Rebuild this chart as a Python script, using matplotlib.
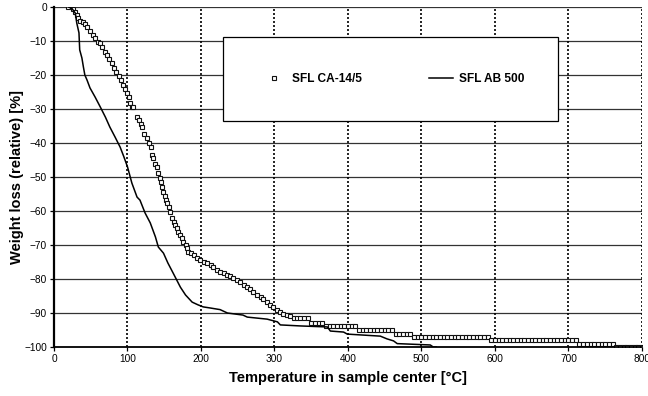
import numpy as np
import matplotlib.pyplot as plt
from matplotlib.patches import Rectangle

plt.rcParams['font.family'] = ['Liberation Sans', 'DejaVu Sans']

# SFL CA-14/5 (hollow squares)
ca_temp = [19, 24, 26, 29, 31, 33, 35, 39, 42, 45, 49, 53, 56, 60, 63, 66, 70, 72, 75, 79,
           82, 85, 88, 91, 94, 97, 99, 102, 104, 106, 108, 113, 116, 118, 120, 123, 126, 129,
           132, 133, 135, 138, 140, 142, 144, 145, 147, 149, 151, 152, 154, 156, 158, 160,
           163, 165, 167, 169, 172, 174, 176, 179, 181, 183, 186, 190, 194, 199, 204, 208,
           213, 217, 222, 226, 231, 236, 240, 244, 249, 253, 258, 263, 267, 271, 276, 281,
           285, 290, 294, 298, 303, 308, 312, 317, 321, 326,
           330, 335, 340, 345, 350, 355, 360, 365,
           370, 375, 380, 385, 390, 395, 400, 405, 410,
           415, 420, 425, 430, 435, 440, 445, 450, 455, 460,
           465, 470, 475, 480, 485,
           490, 495, 500, 505, 510, 515, 520, 525, 530, 535, 540, 545, 550, 555, 560, 565,
           570, 575, 580, 585, 590,
           595, 600, 605, 610, 615, 620, 625, 630, 635, 640, 645, 650, 655, 660, 665, 670,
           675, 680, 685, 690, 695, 700, 705, 710,
           715, 720, 725, 730, 735, 740, 745, 750, 755, 760,
           765, 770, 775, 780, 785, 790, 795, 800]
ca_loss = [0, 0, -0.7, -1.4, -2.4, -3.3, -4.0, -4.3, -5.0, -5.8, -7.0, -8.2, -9.2, -10.2,
           -10.7, -11.9, -13.1, -14.1, -15.4, -16.6, -18.0, -19.0, -20.3, -21.5, -22.9, -24.2,
           -25.4, -26.4, -28.3, -29.3, -29.5, -32.3, -33.2, -34.4, -35.4, -37.4, -38.6, -39.9,
           -41.1, -43.5, -44.5, -46.2, -47.0, -48.9, -50.4, -51.4, -53.0, -54.3, -55.6, -56.8,
           -57.7, -58.7, -60.2, -62.2, -63.1, -64.1, -65.1, -66.1, -67.1, -68.0, -69.0, -70.0,
           -71.0, -72.0, -72.4, -72.9, -73.9, -74.4, -74.9, -75.4, -75.9, -76.4, -77.4, -77.9,
           -78.3, -78.8, -79.2, -79.7, -80.3, -80.9, -81.7, -82.4, -83.0, -83.8, -84.6, -85.3,
           -86.0, -86.8, -87.5, -88.2, -89.0, -89.7, -90.2, -90.6, -91.0, -91.5,
           -91.6, -91.6, -91.6, -91.6, -92.8, -92.8, -92.8, -92.8,
           -93.8, -93.8, -93.8, -93.8, -93.8, -93.8, -93.8, -93.8, -93.8,
           -95.0, -95.0, -95.0, -95.0, -95.0, -95.0, -95.0, -95.0, -95.0, -95.0,
           -96.2, -96.2, -96.2, -96.2, -96.2,
           -97.0, -97.0, -97.0, -97.0, -97.0, -97.0, -97.0, -97.0, -97.0, -97.0, -97.0,
           -97.0, -97.0, -97.0, -97.0, -97.0, -97.0, -97.0, -97.0, -97.0, -97.0,
           -98.0, -98.0, -98.0, -98.0, -98.0, -98.0, -98.0, -98.0, -98.0, -98.0, -98.0,
           -98.0, -98.0, -98.0, -98.0, -98.0, -98.0, -98.0, -98.0, -98.0, -98.0, -98.0,
           -98.0, -98.0,
           -99.2, -99.2, -99.2, -99.2, -99.2, -99.2, -99.2, -99.2, -99.2, -99.2,
           -100, -100, -100, -100, -100, -100, -100, -100]

# SFL AB 500 (solid line)
ab_temp = [19, 24, 29, 31, 34, 35, 38, 40, 42, 45, 49, 56, 63, 70, 76, 83, 90, 95, 100,
           106, 113, 117, 124, 131, 138, 142, 149, 155, 162, 172, 179, 188, 196, 203, 212,
           226, 236, 257, 263, 290, 304, 308, 335, 372, 376, 394, 399, 444, 453, 462, 467,
           512, 516, 520]
ab_loss = [0, -0.3, -1.8, -4.7, -7.6, -12.6, -15.0, -17.6, -20.0, -21.5, -23.8, -26.5,
           -29.4, -32.4, -35.3, -38.2, -41.2, -44.0, -47.0, -51.8, -55.9, -56.8, -60.6,
           -63.5, -67.6, -70.6, -72.4, -75.3, -78.2, -82.4, -84.7, -86.8, -87.6, -88.2,
           -88.5, -89.0, -90.0, -90.6, -91.2, -91.8, -92.6, -93.5, -93.8, -94.1, -95.3,
           -95.6, -96.2, -96.8, -97.6, -98.2, -99.0, -99.4, -100, -100]

fig = plt.figure(figsize=(6.48, 3.96), dpi=100)
ax = fig.add_axes([0.0833, 0.1237, 0.9074, 0.8586])

ax.plot(ca_temp, ca_loss, linestyle='none', marker='s', markersize=3.4,
        markerfacecolor='white', markeredgecolor='#111111', markeredgewidth=0.8,
        label='SFL CA-14/5', zorder=3)
ax.plot(ab_temp, ab_loss, color='black', linewidth=1.1, label='SFL AB 500', zorder=4)

ax.set_xlim(0, 800)
ax.set_ylim(-100, 0)
ax.set_xticks(np.arange(0, 801, 100))
ax.set_yticks(np.arange(-100, 1, 10))
ax.tick_params(axis='both', direction='out', length=3, width=0.9, labelsize=7.3,
               pad=2, colors='black')

# gridlines
for y in range(-90, 1, 10):
    ax.axhline(y, color='#333333', linewidth=0.9, zorder=1)
for x in range(100, 801, 100):
    ax.axvline(x, color='black', linewidth=1.2, linestyle=(0, (1.2, 1.2)), zorder=1)

for s in ['top', 'right']:
    ax.spines[s].set_visible(False)
ax.spines['left'].set_linewidth(1.6)
ax.spines['bottom'].set_linewidth(1.3)
ax.spines['left'].set_zorder(5)
ax.spines['bottom'].set_zorder(5)

ax.set_xlabel('Temperature in sample center [°C]', fontsize=10.5, fontweight='bold', labelpad=5)
ax.set_ylabel('Weight loss (relative) [%]', fontsize=10.5, fontweight='bold', labelpad=0)

# legend box
box = Rectangle((0.287, 0.664), 0.57, 0.249, transform=ax.transAxes,
                facecolor='white', edgecolor='black', linewidth=0.9, zorder=6)
ax.add_patch(box)
leg = ax.legend(loc='center', bbox_to_anchor=(0.577, 0.788), ncol=2, frameon=False,
                prop={'weight': 'bold', 'size': 8.6}, handlelength=2.0,
                columnspacing=5.6, handletextpad=0.5, markerscale=1.0)
leg.set_zorder(7)

fig.savefig('out.png', dpi=100)
